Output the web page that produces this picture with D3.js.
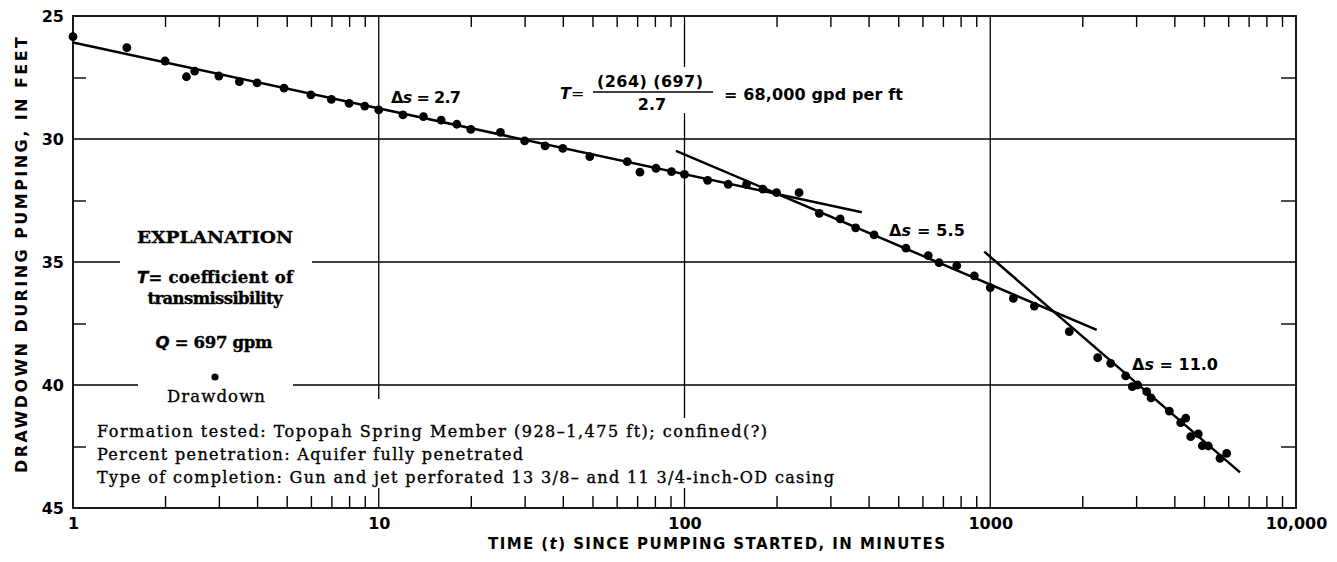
<!DOCTYPE html>
<meta charset="utf-8">
<style>
body { margin: 0; background: #fff; }
.axis path { display: none; }
.axis line { stroke: #000; stroke-width: 1.4; }
.axis text { font-family: "DejaVu Sans"; font-weight: bold; font-size: 16px; fill: #000; }
.grid { stroke: #000; stroke-width: 1.3; }
.fit { stroke: #000; stroke-width: 2.5; fill: none; }
.sans { font-family: "DejaVu Sans"; font-weight: bold; fill: #000; }
.serif { font-family: "DejaVu Serif"; fill: #000; stroke: #000; stroke-width: 0.35; }
</style>
<body>
<script src="https://d3js.org/d3.v7.min.js"></script>
<script>
// time since pumping started (minutes) and drawdown (feet)
var minutes = [1, 1.5, 2, 2.35, 2.5, 3, 3.5, 4, 4.9, 6, 7, 8, 9, 10, 12, 14, 16, 18, 20, 25,
  30, 35, 40, 49, 65, 71.5, 80.7, 90.7, 100, 119, 139, 159.5, 180.5, 200, 237, 276, 323, 363, 417, 530,
  627, 680, 777, 887, 1000, 1190, 1394, 1813, 2246, 2477, 2773, 2915, 3036, 3249, 3357, 3852,
  4197, 4359, 4525, 4791, 4937, 5167, 5642, 5934];
var drawdown = [25.84, 26.29, 26.83, 27.47, 27.24, 27.44, 27.67, 27.72, 27.93, 28.21, 28.39, 28.55, 28.66, 28.82, 29.02, 29.09, 29.23, 29.40, 29.61, 29.73,
  30.08, 30.28, 30.38, 30.72, 30.92, 31.35, 31.19, 31.33, 31.44, 31.68, 31.84, 31.84, 32.04, 32.18, 32.18, 33.02, 33.25, 33.61, 33.90, 34.44,
  34.74, 35.03, 35.15, 35.56, 36.04, 36.48, 36.79, 37.83, 38.89, 39.12, 39.63, 40.07, 40.00, 40.27, 40.52, 41.06,
  41.53, 41.35, 42.10, 41.99, 42.47, 42.48, 42.98, 42.78];

// straight-line fits (start and end of each)
var fitT0 = [1, 93.8, 956];
var fitS0 = [26.08, 30.48, 34.58];
var fitT1 = [380, 2230, 6560];
var fitS1 = [32.98, 37.76, 43.55];

var xTickValues = [1, 10, 100, 1000, 10000];
var xTickLabels = ["1", "10", "100", "1000", "10,000"];
var yTickValues = [25, 30, 35, 40, 45];
var yMinorTicks = [27.5, 32.5, 37.5, 42.5];
var xGrid = [10, 100, 1000];
var yGrid = [30, 35, 40];

var margin = {top: 16, right: 41, bottom: 54, left: 73},
    width = 1337 - margin.left - margin.right,
    height = 562 - margin.top - margin.bottom;

var x = d3.scaleLog().domain([1, 10000]).range([0, width]);
var y = d3.scaleLinear().domain([25, 45]).range([0, height]);

var svg = d3.select("body").append("svg")
    .attr("width", 1337)
    .attr("height", 562);

var g = svg.append("g")
    .attr("transform", "translate(" + margin.left + "," + margin.top + ")");

// grid lines
g.selectAll(".vgrid").data(xGrid).enter().append("line")
    .attr("class", "grid")
    .attr("x1", function(d) { return x(d); }).attr("x2", function(d) { return x(d); })
    .attr("y1", 0).attr("y2", height);
g.selectAll(".hgrid").data(yGrid).enter().append("line")
    .attr("class", "grid")
    .attr("y1", function(d) { return y(d); }).attr("y2", function(d) { return y(d); })
    .attr("x1", 0).attr("x2", width);

// white knockouts where the text sits on the grid
var knock = [[120, 253, 192, 18], [138, 377, 155, 18], [598, 67, 114, 46], [88, 418, 760, 70], [370, 399, 20, 20]];
svg.selectAll(".knock").data(knock).enter().append("rect")
    .attr("x", function(d) { return d[0]; }).attr("y", function(d) { return d[1]; })
    .attr("width", function(d) { return d[2]; }).attr("height", function(d) { return d[3]; })
    .attr("fill", "#fff");

// frame
g.append("rect")
    .attr("width", width).attr("height", height)
    .attr("fill", "none").attr("stroke", "#000").attr("stroke-width", 1.8);

// minor ticks (inside)
var minorX = x.ticks().filter(function(d) { return xTickValues.indexOf(d) < 0; });
g.append("g").attr("class", "axis")
    .call(d3.axisTop(x).tickValues(minorX).tickSize(-11).tickFormat(""));
g.append("g").attr("class", "axis")
    .attr("transform", "translate(0," + height + ")")
    .call(d3.axisBottom(x).tickValues(minorX).tickSize(-12).tickFormat(""));
g.append("g").attr("class", "axis")
    .call(d3.axisLeft(y).tickValues(yMinorTicks).tickSize(-13).tickFormat(""));
g.append("g").attr("class", "axis")
    .attr("transform", "translate(" + width + ",0)")
    .call(d3.axisRight(y).tickValues(yMinorTicks).tickSize(-15).tickFormat(""));

// labels
g.append("g").attr("class", "axis")
    .attr("transform", "translate(0," + height + ")")
    .call(d3.axisBottom(x).tickValues(xTickValues).tickSize(0).tickPadding(10)
      .tickFormat(function(d, i) { return xTickLabels[i]; }));
g.append("g").attr("class", "axis")
    .call(d3.axisLeft(y).tickValues(yTickValues).tickSize(0).tickPadding(9));

svg.append("text").attr("class", "sans")
    .attr("x", 488).attr("y", 549)
    .attr("font-size", 15)
    .attr("textLength", 457).attr("lengthAdjust", "spacing")
    .html('TIME (<tspan font-style="italic">t</tspan>) SINCE PUMPING STARTED, IN MINUTES');

svg.append("text").attr("class", "sans")
    .attr("transform", "translate(27,473) rotate(-90)")
    .attr("font-size", 16)
    .attr("textLength", 436).attr("lengthAdjust", "spacing")
    .text("DRAWDOWN DURING PUMPING, IN FEET");

// fitted lines
g.selectAll(".fit").data(fitT0).enter().append("line")
    .attr("class", "fit")
    .attr("x1", function(d) { return x(d); })
    .attr("y1", function(d, i) { return y(fitS0[i]); })
    .attr("x2", function(d, i) { return x(fitT1[i]); })
    .attr("y2", function(d, i) { return y(fitS1[i]); });

// observations
g.selectAll(".dot").data(minutes).enter().append("circle")
    .attr("cx", function(d) { return x(d); })
    .attr("cy", function(d, i) { return y(drawdown[i]); })
    .attr("r", 4.4)
    .attr("fill", "#000");

// delta-s labels
var dsLabels = [[391, 103, "2.7", 70], [889, 236, "5.5", 76], [1132, 370, "11.0", 86]];
dsLabels.forEach(function(d) {
  svg.append("text").attr("class", "sans")
    .attr("x", d[0]).attr("y", d[1]).attr("font-size", 16)
    .attr("textLength", d[3]).attr("lengthAdjust", "spacing")
    .html('\u0394<tspan font-style="italic">s</tspan> = ' + d[2]);
});

// formula
svg.append("text").attr("class", "sans").attr("x", 560).attr("y", 99).attr("font-size", 16)
    .html('<tspan font-style="italic">T</tspan><tspan font-weight="normal">=</tspan>');
svg.append("text").attr("class", "sans").attr("x", 650).attr("y", 87).attr("font-size", 16)
    .attr("text-anchor", "middle").attr("textLength", 106).attr("lengthAdjust", "spacing")
    .text("(264)  (697)");
svg.append("line").attr("x1", 593).attr("x2", 713).attr("y1", 92).attr("y2", 92)
    .attr("stroke", "#000").attr("stroke-width", 1.6);
svg.append("text").attr("class", "sans").attr("x", 652).attr("y", 110).attr("font-size", 16)
    .attr("text-anchor", "middle").text("2.7");
svg.append("text").attr("class", "sans").attr("x", 724).attr("y", 100).attr("font-size", 16)
    .attr("textLength", 179).attr("lengthAdjust", "spacing")
    .text("= 68,000 gpd per ft");

// explanation
svg.append("text").attr("class", "serif").attr("x", 215).attr("y", 243)
    .attr("font-size", 17.5).attr("font-weight", "bold").attr("text-anchor", "middle")
    .attr("textLength", 156).attr("lengthAdjust", "spacingAndGlyphs")
    .text("EXPLANATION");
svg.append("text").attr("class", "serif").attr("x", 137).attr("y", 283)
    .attr("font-size", 16.5).attr("font-weight", "bold")
    .attr("textLength", 156).attr("lengthAdjust", "spacing")
    .html('<tspan font-family="DejaVu Sans" font-style="italic">T</tspan>= coefficient of');
svg.append("text").attr("class", "serif").attr("x", 215).attr("y", 304)
    .attr("font-size", 16.5).attr("font-weight", "bold").attr("text-anchor", "middle")
    .attr("textLength", 135).attr("lengthAdjust", "spacing")
    .text("transmissibility");
svg.append("text").attr("class", "serif").attr("x", 214).attr("y", 348)
    .attr("font-size", 16.5).attr("font-weight", "bold").attr("text-anchor", "middle")
    .attr("textLength", 117).attr("lengthAdjust", "spacing")
    .html('<tspan font-family="DejaVu Sans" font-style="italic">Q</tspan> = 697 gpm');
svg.append("circle").attr("cx", 215).attr("cy", 377).attr("r", 3.6).attr("fill", "#000");
svg.append("text").attr("class", "serif").attr("x", 216).attr("y", 402)
    .attr("font-size", 16.5).attr("text-anchor", "middle")
    .attr("textLength", 98).attr("lengthAdjust", "spacing")
    .text("Drawdown");

var notes = ["Formation tested:  Topopah Spring Member (928\u20131,475 ft); confined(?)",
  "Percent penetration:  Aquifer fully penetrated",
  "Type of completion:  Gun and jet perforated 13 3/8\u2013 and 11 3/4-inch-OD casing"];
var noteWidths = [670, 426, 737];
notes.forEach(function(t, i) {
  svg.append("text").attr("class", "serif")
    .attr("x", 97).attr("y", 437 + i * 23)
    .attr("font-size", 16)
    .attr("textLength", noteWidths[i]).attr("lengthAdjust", "spacing")
    .text(t);
});
</script>
</body>
